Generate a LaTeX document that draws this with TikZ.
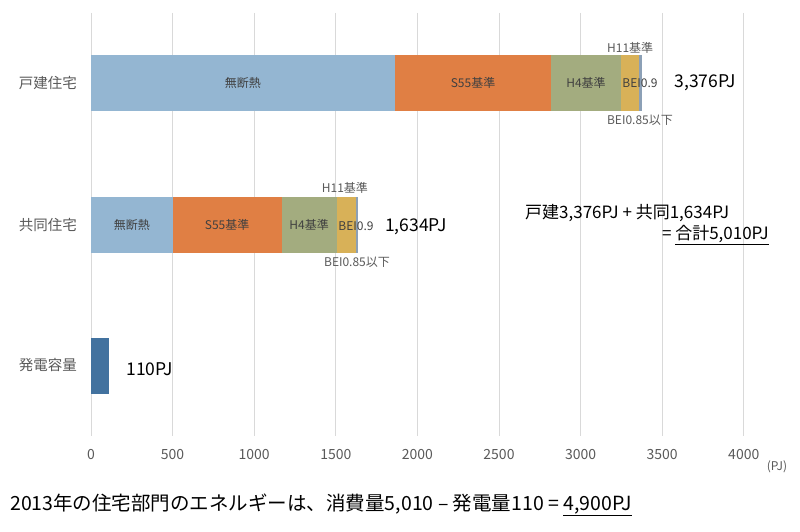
\documentclass[tikz,border=0pt]{standalone}
\usepackage{fontspec}
\setmainfont{Noto Sans CJK JP}
\usetikzlibrary{positioning}
\definecolor{noins}{RGB}{148,182,210}
\definecolor{sfive}{RGB}{224,127,68}
\definecolor{hfour}{RGB}{163,172,127}
\definecolor{beinine}{RGB}{216,177,88}
\definecolor{beieight}{RGB}{140,160,182}
\definecolor{gen}{RGB}{66,114,159}
\definecolor{gridgray}{RGB}{217,217,217}
\definecolor{lbl}{RGB}{89,89,89}
\tikzset{seg/.style={inner sep=0pt, text=black!75, font=\fontsize{12}{12}\selectfont},
cat/.style={anchor=east, inner sep=0pt, text=lbl, font=\fontsize{14.5}{14.5}\selectfont},
tick/.style={inner sep=0pt, text=lbl, font=\fontsize{14}{14}\selectfont},
note/.style={inner sep=0pt, text=lbl, font=\fontsize{12}{12}\selectfont},
total/.style={inner sep=0pt, font=\fontsize{17.5}{17.5}\selectfont},
remark/.style={inner sep=0pt, font=\fontsize{17}{17}\selectfont},
gridline/.style={draw=gridgray, line width=0.9pt}}

\begin{document}
\begin{tikzpicture}[x=1pt,y=-1pt]
  \useasboundingbox (0,0) rectangle (800,532);
  % values in PJ, 1PJ = 0.1632px
  \begin{scope}[xshift=91pt, x=0.1632pt]
    \foreach \v in {0,500,...,4000} {
      \draw [gridline] (\v,13) -- (\v,436);
      \node (t\v) [tick] at (\v,455) {\v};
    }
    % detached
    \fill [noins] (0,55) rectangle (1863,111);
    \fill [sfive] (1863,55) rectangle (2819,111);
    \fill [hfour] (2819,55) rectangle (3248,111);
    \fill [beinine] (3248,55) rectangle (3360,111);
    \fill [beieight] (3360,55) rectangle (3376,111);
    \node (da) [seg] at (931,83) {無断熱};
    \node (db) [seg] at (2341,83) {S55基準};
    \node (dc) [seg] at (3033,83) {H4基準};
    \node (dd) [seg] at (3364,83) {BEI0.9};
    \node (de) [note] at (3304,48) {H11基準};
    \node (df) [note] at (3364,120) {BEI0.85以下};
    \node (dsum) [total] at (3763,83) {3,376PJ};
    % apartment
    \fill [noins] (0,197) rectangle (500,253);
    \fill [sfive] (500,197) rectangle (1168,253);
    \fill [hfour] (1168,197) rectangle (1506,253);
    \fill [beinine] (1506,197) rectangle (1624,253);
    \fill [beieight] (1624,197) rectangle (1634,253);
    \node (aa) [seg] at (250,225) {無断熱};
    \node (ab) [seg] at (834,225) {S55基準};
    \node (ac) [seg] at (1337,225) {H4基準};
    \node (ad) [seg] at (1624,226) {BEI0.9};
    \node (ae) [note] at (1556,188) {H11基準};
    \node (af) [note] at (1630,262) {BEI0.85以下};
    \node (asum) [total] at (1991,227) {1,634PJ};
    % generation
    \fill [gen] (0,338) rectangle (110,394);
    \node (gsum) [total] at (361,369) {110PJ};
  \end{scope}
  \node (cd) [cat] at (77,83) {戸建住宅};
  \node (ca) [cat] at (77,225) {共同住宅};
  \node (cg) [cat] at (77,365) {発電容量};
  \node (unit) [tick, font=\fontsize{12}{12}\selectfont] at (777,467) {(PJ)};
  \node (sum1) [remark, anchor=west] at (525,213) {戸建3,376PJ + 共同1,634PJ};
  \node (sum2) [remark, anchor=east] at (769,235) {= \underline{合計5,010PJ}};
  \node (net) [anchor=west, inner sep=0pt, font=\fontsize{19.5}{19.5}\selectfont] at (10,505)
    {2013年の住宅部門のエネルギーは、消費量5,010 – 発電量110 = \underline{4,900PJ}};
\end{tikzpicture}
\end{document}
